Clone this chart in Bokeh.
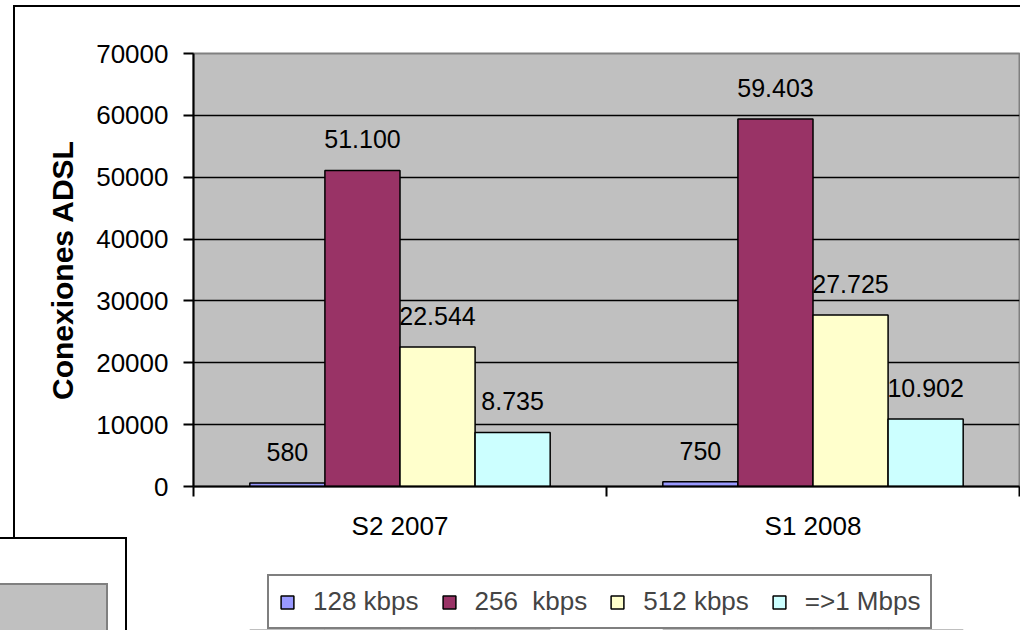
from bokeh.plotting import figure
from bokeh.layouts import column
from bokeh.models import (Range1d, LinearAxis, FixedTicker, InlineStyleSheet,
                          ColumnDataSource, Legend, LegendItem, NumeralTickFormatter)
from bokeh.core.properties import value
from bokeh.embed import file_html
from bokeh.resources import INLINE

# ---- data ----
categories = ["S2 2007", "S1 2008"]
series_names = ["128 kbps", "256  kbps", "512 kbps", "=>1 Mbps"]
kbps128 = [580, 750]
kbps256 = [51100, 59403]
kbps512 = [22544, 27725]
mbps1 = [8735, 10902]
series_values = [kbps128, kbps256, kbps512, mbps1]
colors = ["#9999FF", "#993366", "#FFFFCC", "#CCFFFF"]
y_ticks = [0, 10000, 20000, 30000, 40000, 50000, 60000, 70000]
y_title = "Conexiones ADSL"

FONT = "Liberation Sans"
ncat = len(categories)
centers = [i + 0.5 for i in range(ncat)]
edges = list(range(ncat + 1))

p = figure(x_range=Range1d(0, ncat), y_range=Range1d(0, 70000),
           width=1020, height=560, output_backend="svg", toolbar_location=None,
           x_axis_location=None, min_border_left=193, min_border_right=1,
           min_border_top=53, min_border_bottom=74)

p.background_fill_color = "#C0C0C0"
p.border_fill_color = "white"
p.outline_line_color = "#808080"
p.outline_line_width = 2
p.xgrid.visible = False
p.ygrid.grid_line_color = "black"
p.ygrid.grid_line_width = 1.5
p.ygrid.ticker = FixedTicker(ticks=y_ticks)

ya = p.yaxis[0]
ya.ticker = FixedTicker(ticks=y_ticks)
ya.formatter = NumeralTickFormatter(format="0")
ya.major_tick_out = 10
ya.major_tick_in = 0
ya.minor_tick_line_color = None
ya.major_tick_line_width = 2
ya.axis_line_width = 2
ya.axis_line_color = "black"
ya.major_tick_line_color = "black"
ya.major_label_standoff = 15
ya.major_label_text_font = FONT
ya.major_label_text_font_size = "26px"
ya.major_label_text_color = "black"
ya.axis_label = y_title
ya.axis_label_text_font = FONT
ya.axis_label_text_font_style = "bold"
ya.axis_label_text_font_size = "30px"
ya.axis_label_text_color = "black"
ya.axis_label_standoff = 14

# x axis: labels at category centres, tick marks at category boundaries
xa = LinearAxis(ticker=FixedTicker(ticks=centers, minor_ticks=edges),
                major_label_overrides={c: name for c, name in zip(centers, categories)},
                major_tick_line_color=None, major_tick_out=0, major_tick_in=0,
                minor_tick_line_color="black", minor_tick_line_width=2,
                minor_tick_out=10, minor_tick_in=0,
                axis_line_width=2, axis_line_color="black",
                major_label_standoff=14, major_label_text_font=FONT,
                major_label_text_font_size="26px", major_label_text_color="black")
p.add_layout(xa, "below")

n = len(series_values)
w = 1.0 / (n + 1.5)
sources = []
for i, (name, vals, col) in enumerate(zip(series_names, series_values, colors)):
    off = (i - (n - 1) / 2) * w
    src = ColumnDataSource(dict(x=[c + off for c in centers], val=vals,
                                label=[f"{v:,}".replace(",", ".") for v in vals]))
    sources.append(src)
    p.vbar(x="x", top="val", width=w, source=src,
           fill_color=col, line_color="black", line_width=1.5)
    p.text(x="x", y="val", text="label", source=src,
           text_align="center", text_baseline="alphabetic", y_offset=-31,
           text_font=value(FONT), text_font_size="25px", text_color="black")

# legend strip below the chart (its own canvas so nothing is clipped);
# it shares the series sources, its y range keeps the bars themselves far out of view
lg = figure(x_range=Range1d(0, ncat), y_range=Range1d(1e6, 2e6), width=1020, height=70,
            output_backend="svg", toolbar_location=None,
            x_axis_location=None, y_axis_location=None, min_border=0)
lg.grid.visible = False
lg.outline_line_color = None
lg.background_fill_color = "white"
lg.border_fill_color = "white"
items = []
for name, col, src in zip(series_names, colors, sources):
    r = lg.vbar(x="x", top="val", width=w, source=src,
                fill_color=col, line_color="black", line_width=1.5)
    items.append(LegendItem(label=name, renderers=[r]))
legend = Legend(items=items, orientation="horizontal", location=(74, 1),
                border_line_color="black", border_line_width=2,
                background_fill_color="white", background_fill_alpha=1,
                label_text_font=FONT, label_text_font_size="26px",
                glyph_width=16, glyph_height=16, label_standoff=18, spacing=22,
                padding=10, margin=0)
lg.add_layout(legend, "center")

page = column(p, lg, spacing=0)

# outer chart border and the neighbouring chart that overlaps the bottom-left corner
page.stylesheets = [InlineStyleSheet(css="""
:host { position: relative; }
:host::before {
  content: ""; position: absolute; left: 13px; top: 5px;
  width: calc(100% - 15px); height: calc(100% - 7px);
  border-left: 2px solid black; border-top: 2px solid black;
  pointer-events: none; z-index: 5;
}
:host::after {
  content: ""; position: absolute; left: 0px; top: 537px;
  width: 125px; height: calc(100% - 539px);
  border-right: 2px solid black; border-top: 2px solid black;
  background:
    linear-gradient(#C0C0C0, #C0C0C0) 0px 46px / 106px 100% no-repeat,
    linear-gradient(#808080, #808080) 0px 44px / 108px 100% no-repeat,
    white;
  pointer-events: none; z-index: 6;
}
""")]

open("out.html", "w").write(file_html(page, INLINE))
